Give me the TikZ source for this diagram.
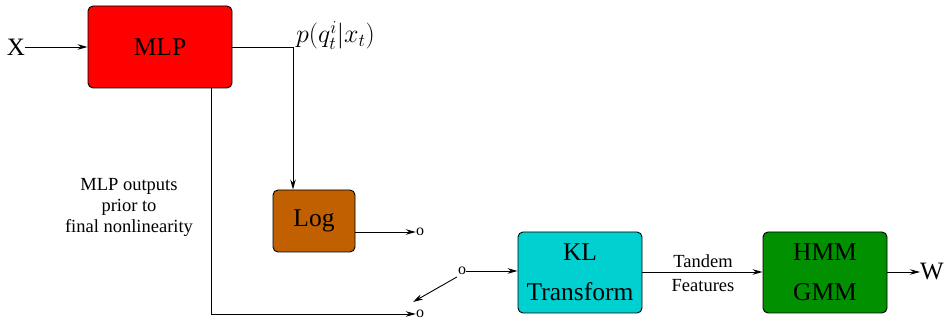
\RequirePackage{fix-cm}
\documentclass[tikz,border=0pt]{standalone}
\usepackage{fontspec}
\setmainfont{Liberation Serif}
\usetikzlibrary{arrows.meta}
\definecolor{mlpred}{HTML}{FF0000}
\definecolor{logbrown}{HTML}{C06000}
\definecolor{klcyan}{HTML}{00D0D0}
\definecolor{hmmgreen}{HTML}{009000}
\begin{document}
\begin{tikzpicture}[x=1pt,y=-1pt,
  blk/.style={draw=black, line width=0.9pt, rounded corners=5pt, inner sep=0pt,
    align=center, font=\fontsize{25.5}{40}\selectfont},
  lbl/.style={inner sep=0pt, align=center, font=\fontsize{18.5}{21}\selectfont},
  big/.style={inner sep=0pt, font=\fontsize{25}{25}\selectfont},
  term/.style={inner sep=0pt, font=\fontsize{16}{16}\selectfont},
  wire/.style={line width=0.9pt},
  arr/.style={wire, -{Stealth[length=10pt,width=5.5pt]}}]
\useasboundingbox (0,0) rectangle (945,320);

% processing blocks
\node[blk, fill=mlpred, minimum width=144pt, minimum height=82pt] (mlp) at (160,47) {MLP};
\node[blk, fill=logbrown, minimum width=82pt, minimum height=62pt] (log) at (314,221) {Log};
\node[blk, fill=klcyan, minimum width=124pt, minimum height=81pt] (kl) at (580,272.5) {KL\\Transform};
\node[blk, fill=hmmgreen, minimum width=124pt, minimum height=81pt] (hmm) at (825,272.5) {HMM\\GMM};

% inputs, outputs and switch terminals
\node[big] (x) at (16,47) {X};
\node[big] (w) at (932,272) {W};
\node[term] (tlog) at (420,232) {o};
\node[term] (tlin) at (420,314) {o};
\node[term] (tsw) at (462,271) {o};

% labels
\node[anchor=base west, inner sep=0pt, font=\fontsize{26}{26}\selectfont] (post) at (296,43) {$p(q^i_t|x_t)$};
\node[lbl] (note) at (129,207) {MLP outputs\\prior to\\final nonlinearity};
\node[lbl] (tandem) at (703,261) {Tandem};
\node[lbl] (feat) at (703,286) {Features};

% connectors
\draw[arr] (x.east) -- (mlp.west);
\coordinate (bend) at (293,47);
\draw[arr] (mlp.east |- bend) -- (bend) -- (bend |- log.north);
\coordinate (lin) at (211,314);
\draw[arr] (mlp.south -| lin) -- (lin) -- (tlin.west);
\draw[arr] ([yshift=-11pt]log.east) -- (tlog.west);
\draw[arr] ([xshift=-1pt,yshift=-2pt]tsw.south west) -- (413,302);
\draw[arr] (tsw.east) -- (kl.west |- tsw);
\draw[arr] (kl.east |- 0,272) -- (hmm.west |- 0,272);
\draw[arr] (hmm.east |- 0,272) -- (w.west |- 0,272);
\end{tikzpicture}
\end{document}
